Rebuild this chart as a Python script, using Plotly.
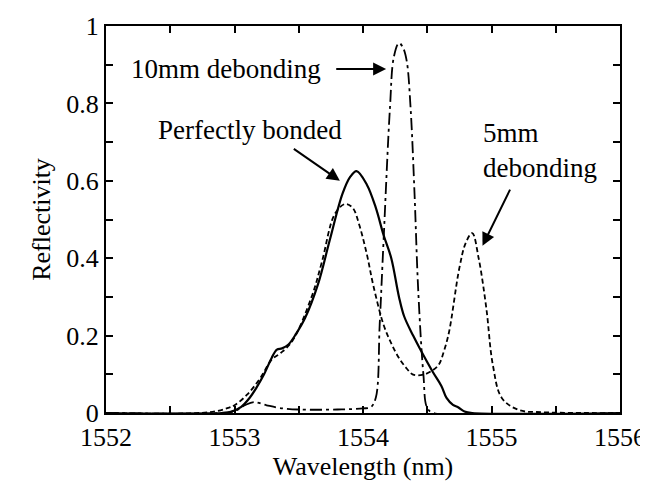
import plotly.graph_objects as go

# Perfectly bonded (solid)
wl_bonded = [1552.0, 1552.9, 1552.97, 1553.05, 1553.12, 1553.17, 1553.23, 1553.29, 1553.33, 1553.37,
             1553.42, 1553.48, 1553.55, 1553.65, 1553.74, 1553.84, 1553.9, 1553.95, 1554.03, 1554.1,
             1554.16, 1554.22, 1554.28, 1554.32, 1554.39, 1554.44, 1554.54, 1554.61, 1554.65, 1554.7,
             1554.74, 1554.79, 1554.85, 1556.0]
r_bonded = [0, 0, 0.003, 0.015, 0.04, 0.065, 0.10, 0.143, 0.164, 0.167,
            0.177, 0.205, 0.246, 0.333, 0.445, 0.566, 0.61, 0.625, 0.59, 0.53,
            0.46, 0.40, 0.30, 0.25, 0.20, 0.168, 0.108, 0.07, 0.039, 0.021,
            0.015, 0.004, 0, 0]

# 5mm debonding (short dash)
wl_5mm = [1552.0, 1552.8, 1552.95, 1553.0, 1553.1, 1553.2, 1553.29, 1553.36, 1553.45, 1553.6,
          1553.68, 1553.78, 1553.86, 1553.92, 1553.97, 1554.03, 1554.08, 1554.16, 1554.22, 1554.28,
          1554.34, 1554.39, 1554.47, 1554.54, 1554.59, 1554.63, 1554.67, 1554.75, 1554.8, 1554.85,
          1554.9, 1554.96, 1555.01, 1555.08, 1555.21, 1555.4, 1556.0]
r_5mm = [0, 0.002, 0.013, 0.02, 0.048, 0.09, 0.138, 0.155, 0.186, 0.30,
         0.39, 0.514, 0.54, 0.53, 0.487, 0.41, 0.33, 0.228, 0.18, 0.142,
         0.115, 0.099, 0.099, 0.11, 0.125, 0.16, 0.21, 0.375, 0.44, 0.465,
         0.40, 0.27, 0.125, 0.039, 0.008, 0.002, 0]

# 10mm debonding (dash-dot)
wl_10mm = [1552.0, 1552.9, 1553.0, 1553.08, 1553.15, 1553.25, 1553.35, 1553.5, 1553.8, 1554.0,
           1554.06, 1554.1, 1554.13, 1554.16, 1554.21, 1554.24, 1554.28, 1554.31, 1554.34, 1554.37,
           1554.40, 1554.43, 1554.47, 1554.5, 1554.55, 1556.0]
r_10mm = [0, 0, 0.005, 0.02, 0.028, 0.02, 0.013, 0.009, 0.009, 0.012,
          0.015, 0.04, 0.23, 0.445, 0.79, 0.92, 0.956, 0.945, 0.91, 0.79,
          0.575, 0.315, 0.10, 0.013, 0, 0]

x_tick_vals = [1552, 1552.5, 1553, 1553.5, 1554, 1554.5, 1555, 1555.5, 1556]
x_tick_text = ["1552", "", "1553", "", "1554", "", "1555", "", "1556"]
y_tick_vals = [0, 0.1, 0.2, 0.3, 0.4, 0.5, 0.6, 0.7, 0.8, 0.9, 1]
y_tick_text = ["0", "", "0.2", "", "0.4", "", "0.6", "", "0.8", "", "1"]

FONT = "Times New Roman"

fig = go.Figure(layout=dict(template="none"))
fig.add_trace(go.Scatter(x=wl_10mm, y=r_10mm, mode="lines",
                         line=dict(color="black", width=1.8, dash="12px,4px,3px,4px", shape="spline")))
fig.add_trace(go.Scatter(x=wl_5mm, y=r_5mm, mode="lines",
                         line=dict(color="black", width=1.8, dash="5px,3px", shape="spline")))
fig.add_trace(go.Scatter(x=wl_bonded, y=r_bonded, mode="lines",
                         line=dict(color="black", width=2.2, shape="spline")))

annotations = [
    dict(x=1552.93, y=0.889, text="10mm debonding", xanchor="center"),
    dict(x=1553.12, y=0.731, text="Perfectly bonded", xanchor="center"),
    dict(x=1554.92, y=0.723, text="5mm", xanchor="left"),
    dict(x=1554.92, y=0.633, text="debonding", xanchor="left"),
]
for a in annotations:
    fig.add_annotation(x=a["x"], y=a["y"], xref="x", yref="y", text=a["text"], showarrow=False,
                       xanchor=a["xanchor"], yanchor="middle",
                       font=dict(family=FONT, size=27, color="black"))

arrows = [
    (1553.78, 0.889, 1554.18, 0.889),
    (1553.45, 0.685, 1553.82, 0.60),
    (1555.15, 0.581, 1554.93, 0.432),
]
for x0, y0, x1, y1 in arrows:
    fig.add_annotation(x=x1, y=y1, ax=x0, ay=y0, xref="x", yref="y", axref="x", ayref="y",
                       text="", showarrow=True, arrowhead=2, arrowsize=1.3, arrowwidth=2,
                       arrowcolor="black")

tickfont = dict(family=FONT, size=26, color="black")
titlefont = dict(family=FONT, size=26, color="black")

fig.update_xaxes(range=[1552, 1556], tickmode="array", tickvals=x_tick_vals, ticktext=x_tick_text,
                 showline=True, linecolor="black", linewidth=2, mirror="ticks",
                 ticks="inside", ticklen=7, tickwidth=1.5, tickcolor="black",
                 showgrid=False, zeroline=False, tickfont=tickfont,
                 title=dict(text="Wavelength (nm)", font=titlefont, standoff=2))
fig.update_yaxes(range=[0, 1], tickmode="array", tickvals=y_tick_vals, ticktext=y_tick_text,
                 showline=True, linecolor="black", linewidth=2, mirror="ticks",
                 ticks="inside", ticklen=7, tickwidth=1.5, tickcolor="black",
                 showgrid=False, zeroline=False, tickfont=tickfont,
                 title=dict(text="Reflectivity", font=titlefont, standoff=8))

fig.update_layout(width=648, height=485, margin=dict(l=98, r=36, t=18, b=80),
                  paper_bgcolor="white", plot_bgcolor="white", showlegend=False,
                  font=dict(family=FONT, size=26, color="black"))

fig.write_html("out.html")
